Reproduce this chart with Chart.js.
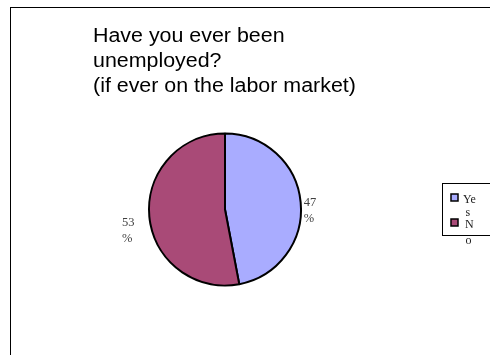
<!DOCTYPE html>
<html>
<head>
<meta charset="utf-8">
<script src="https://cdn.jsdelivr.net/npm/chart.js@4"></script>
<style>
  html, body { margin: 0; padding: 0; background: #fff; overflow: hidden; }
  #wrap { position: relative; width: 490px; height: 355px; }
  #frame { position: absolute; left: 10px; top: 7px; width: 500px; height: 400px; border: 1px solid #000; box-sizing: border-box; }
  canvas { position: absolute; left: 0; top: 0; }
</style>
</head>
<body>
<div id="wrap">
  <div id="frame"></div>
  <canvas id="c" width="490" height="355"></canvas>
</div>
<script>
const titleLines = ["Have you ever been", "unemployed?", "(if ever on the labor market)"];
const categories = ["Yes", "No"];
const values = [47, 53];
const valueLabels = ["47 %", "53 %"];
const legendLabels = [["Ye", "s"], ["N", "o"]];
const colors = ["#a9acff", "#a94a77"];

const overlay = {
  id: 'overlay',
  afterDraw(chart) {
    const ctx = chart.ctx;
    ctx.save();
    // title
    ctx.fillStyle = '#000';
    ctx.textBaseline = 'alphabetic';
    ctx.textAlign = 'left';
    ctx.font = '20px "Liberation Sans", Arial, sans-serif';
    titleLines.forEach((t, i) => {
      ctx.save();
      ctx.translate(93, 42 + i * 25);
      ctx.scale(1.07, 1);
      ctx.fillText(t, 0, 0);
      ctx.restore();
    });

    // data labels
    const meta = chart.getDatasetMeta(0);
    ctx.font = '12.5px "Liberation Serif", "DejaVu Serif", serif';
    ctx.fillStyle = '#404040';
    meta.data.forEach((arc, i) => {
      const p = arc.getProps(['x', 'y', 'startAngle', 'endAngle', 'outerRadius'], true);
      const mid = (p.startAngle + p.endAngle) / 2;
      const parts = valueLabels[i].split(' ');
      const dx = Math.cos(mid), dy = Math.sin(mid);
      let x, y;
      if (dx >= 0) {
        x = p.x + dx * (p.outerRadius + 3);
        y = p.y + dy * (p.outerRadius + 3) + 4;
        ctx.textAlign = 'left';
        ctx.fillText(parts[0], x, y);
        ctx.fillText(parts[1], x, y + 16);
      } else {
        x = p.x + dx * (p.outerRadius + 15);
        y = p.y + dy * (p.outerRadius + 15) + 8;
        ctx.textAlign = 'right';
        ctx.fillText(parts[0], x, y);
        ctx.textAlign = 'left';
        ctx.fillText(parts[1], x - ctx.measureText(parts[0]).width, y + 16);
      }
    });

    // legend
    ctx.strokeStyle = '#000';
    ctx.lineWidth = 1;
    ctx.strokeRect(442.5, 183.5, 60, 52);
    ctx.font = '12px "Liberation Serif", "DejaVu Serif", serif';
    const rows = [194, 219];
    rows.forEach((ry, i) => {
      ctx.fillStyle = colors[i];
      ctx.fillRect(451, ry, 7, 7);
      ctx.lineWidth = 1.5;
      ctx.strokeStyle = '#000';
      ctx.strokeRect(451, ry, 7, 7);
    });
    ctx.fillStyle = '#222';
    ctx.textAlign = 'left';
    ctx.fillText(legendLabels[0][0], 463, 203);
    ctx.fillText(legendLabels[0][1], 465.5, 216);
    ctx.fillText(legendLabels[1][0], 465, 228);
    ctx.fillText(legendLabels[1][1], 465.5, 244);
    ctx.restore();
  }
};

new Chart(document.getElementById('c'), {
  type: 'pie',
  data: {
    labels: categories,
    datasets: [{
      data: values,
      backgroundColor: colors,
      borderColor: '#000',
      borderWidth: 2
    }]
  },
  options: {
    responsive: false,
    animation: false,
    radius: 76,
    layout: { padding: { left: 0, right: 40, top: 64, bottom: 0 } },
    plugins: {
      legend: { display: false },
      title: { display: false },
      tooltip: { enabled: false }
    }
  },
  plugins: [overlay]
});
</script>
</body>
</html>
